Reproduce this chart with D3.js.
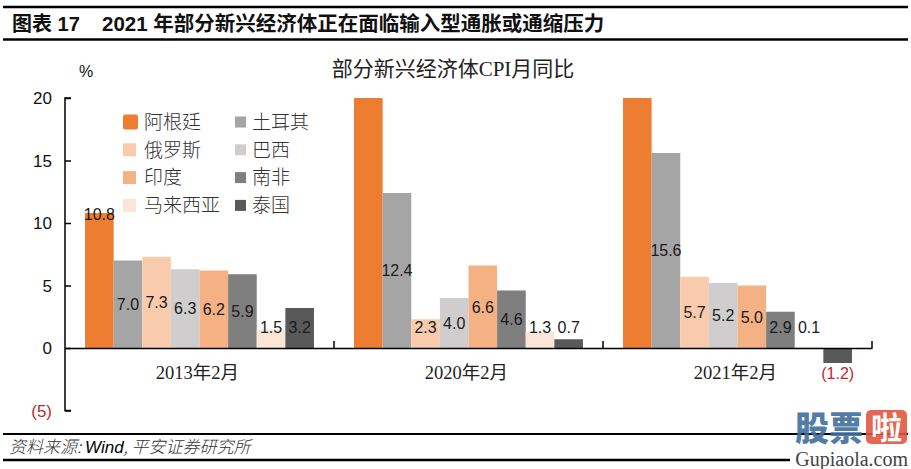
<!DOCTYPE html>
<html><head><meta charset="utf-8">
<script src="https://cdn.jsdelivr.net/npm/d3@7"></script>
<style>
html,body{margin:0;padding:0;background:#fff;}
svg{display:block;}
</style></head>
<body>
<svg id="chart" width="911" height="469"></svg>
<script>
// ---- data ----
const categories = ["2013年2月", "2020年2月", "2021年2月"];
const seriesNames = ["阿根廷", "土耳其", "俄罗斯", "巴西", "印度", "南非", "马来西亚", "泰国"];
const argentina   = [10.8, 50.3, 40.7];
const turkey      = [7.0, 12.4, 15.6];
const russia      = [7.3, 2.3, 5.7];
const brazil      = [6.3, 4.0, 5.2];
const india       = [6.2, 6.6, 5.0];
const southAfrica = [5.9, 4.6, 2.9];
const malaysia    = [1.5, 1.3, 0.1];
const thailand    = [3.2, 0.7, -1.2];
const yTicks = [20, 15, 10, 5, 0, -5];
const seriesValues = [argentina, turkey, russia, brazil, india, southAfrica, malaysia, thailand];
const colors = ["#ED7D31", "#A5A5A5", "#F8CBAD", "#CFCDCD", "#F4B183", "#7F7F7F", "#FBE5D6", "#595959"];

const svg = d3.select("#chart");
const sansCJK = "'Liberation Sans', Arial, 'Noto Sans CJK SC', sans-serif";
const serifCJK = "'Liberation Serif', 'Times New Roman', 'Noto Sans CJK SC', serif";

// ---- header ----
svg.append("line").attr("x1", 3).attr("x2", 908).attr("y1", 7).attr("y2", 7)
  .attr("stroke", "#000").attr("stroke-width", 2.5);
svg.append("line").attr("x1", 3).attr("x2", 908).attr("y1", 39.5).attr("y2", 39.5)
  .attr("stroke", "#000").attr("stroke-width", 2.5);
svg.append("text").attr("x", 12).attr("y", 31)
  .style("font-family", sansCJK).style("font-weight", "bold").style("font-size", "20px")
  .attr("fill", "#111").text("图表 17");
svg.append("text").attr("x", 102).attr("y", 31)
  .style("font-family", sansCJK).style("font-weight", "bold").style("font-size", "20.5px")
  .attr("fill", "#111").text("2021 年部分新兴经济体正在面临输入型通胀或通缩压力");

// ---- chart title ----
svg.append("text").attr("x", 453).attr("y", 76).attr("text-anchor", "middle")
  .style("font-family", serifCJK).style("font-size", "21px").attr("fill", "#222")
  .text("部分新兴经济体CPI月同比");

// ---- scales ----
const x0 = d3.scaleBand().domain(categories).range([65, 872]).padding(0);
const x1 = d3.scaleBand().domain(seriesNames).range([0, x0.bandwidth()]).paddingInner(0).paddingOuter(0.7);
const y = d3.scaleLinear().domain([-5, 20]).range([410.5, 98]).clamp(true);
const fmt = v => v < 0 ? "(" + d3.format(".1f")(-v) + ")" : d3.format(".1f")(v);
const tickFmt = v => v < 0 ? "(" + (-v) + ")" : String(v);

// ---- bars ----
const groups = svg.append("g").selectAll("g").data(categories).join("g")
  .attr("transform", d => `translate(${x0(d)},0)`);
groups.each(function(cat, ci) {
  const g = d3.select(this);
  seriesNames.forEach((name, si) => {
    const v = seriesValues[si][ci];
    g.append("rect")
      .attr("x", x1(name))
      .attr("width", x1.bandwidth())
      .attr("y", Math.min(y(v), y(0)))
      .attr("height", Math.abs(y(v) - y(0)))
      .attr("fill", colors[si]);
  });
});

// ---- axes ----
const yAxis = d3.axisRight(y).tickValues(yTicks).tickSize(6).tickFormat("");
const yg = svg.append("g").attr("transform", "translate(65,0)").call(yAxis);
yg.select(".domain").attr("stroke", "#000").attr("stroke-width", 1.5).attr("d", "M6,98H0V410.5H6");
yg.selectAll(".tick line").attr("stroke", "#000").attr("stroke-width", 1.5);
svg.append("g").selectAll("text").data(yTicks).join("text")
  .attr("x", 52).attr("y", d => y(d)).attr("dy", "0.36em").attr("text-anchor", "end")
  .style("font-family", sansCJK).style("font-size", "17px")
  .attr("fill", d => d < 0 ? "#C0272D" : "#111").text(tickFmt);

// zero line with category separators
const xAxis = d3.axisTop(x0).tickSize(0).tickFormat("");
const xg = svg.append("g").attr("transform", `translate(0,${y(0)})`).call(xAxis);
xg.select(".domain").attr("stroke", "#000").attr("stroke-width", 1.5);
xg.selectAll(".tick").remove();
svg.append("g").selectAll("line").data(categories).join("line")
  .attr("x1", d => x0(d) + x0.bandwidth()).attr("x2", d => x0(d) + x0.bandwidth())
  .attr("y1", y(0)).attr("y2", y(0) - 7).attr("stroke", "#000").attr("stroke-width", 1.5);

// category labels
svg.append("g").selectAll("text").data(categories).join("text")
  .attr("x", d => x0(d) + x0.bandwidth() / 2 - 2).attr("y", y(0) + 31)
  .attr("text-anchor", "middle")
  .style("font-family", serifCJK).style("font-size", "18.5px").attr("fill", "#222")
  .text(d => d);

// "%" unit
svg.append("text").attr("x", 86).attr("y", 77).attr("text-anchor", "middle")
  .style("font-family", sansCJK).style("font-size", "16px").attr("fill", "#111").text("%");

// ---- value labels ----
groups.each(function(cat, ci) {
  const g = d3.select(this);
  seriesNames.forEach((name, si) => {
    const v = seriesValues[si][ci];
    if (v > 20) return;
    let ly;
    if (v < 0) ly = y(v) + 10;
    else if (si === 0) ly = y(v) + 1;
    else ly = y(Math.max(v / 2, 1.65));
    g.append("text")
      .attr("x", x1(name) + x1.bandwidth() / 2)
      .attr("y", ly).attr("dy", "0.36em").attr("text-anchor", "middle")
      .style("font-family", sansCJK).style("font-size", "16px")
      .attr("fill", v < 0 ? "#C0272D" : "#1a1a1a")
      .text(fmt(v));
  });
});

// ---- legend ----
const legend = svg.append("g");
seriesNames.forEach((name, i) => {
  const col = i % 2, row = Math.floor(i / 2);
  const cx = col === 0 ? 123 : 235;
  const cy = 122 + row * 27.8;
  const s = col === 0 ? (i === 0 ? 15 : 13) : 11;
  legend.append("rect").attr("x", cx).attr("y", cy - s / 2).attr("width", s).attr("height", s)
    .attr("rx", i === 0 ? 2 : 0).attr("fill", colors[i]);
  legend.append("text").attr("x", col === 0 ? 144 : 252).attr("y", cy).attr("dy", "0.36em")
    .style("font-family", "'Noto Sans CJK SC', sans-serif").style("font-size", "19px")
    .style("font-weight", 300).attr("fill", "#333").text(name);
});

// ---- footer ----
svg.append("line").attr("x1", 3).attr("x2", 908).attr("y1", 434).attr("y2", 434)
  .attr("stroke", "#000").attr("stroke-width", 2);
svg.append("line").attr("x1", 3).attr("x2", 908).attr("y1", 460).attr("y2", 460)
  .attr("stroke", "#000").attr("stroke-width", 2.5);
const foot = svg.append("text").attr("x", 9).attr("y", 453)
  .style("font-size", "17px").style("font-style", "italic").attr("fill", "#333");
foot.append("tspan").style("font-family", "'Noto Sans CJK SC', sans-serif").style("font-weight", 300).text("资料来源: ");
foot.append("tspan").style("font-family", sansCJK).attr("fill", "#000").text("Wind");
foot.append("tspan").style("font-family", "'Noto Sans CJK SC', sans-serif").style("font-weight", 300).text(", 平安证券研究所");

// ---- watermark ----
const wm = svg.append("g");
wm.append("rect").attr("x", 790).attr("y", 450).attr("width", 119).attr("height", 19).attr("fill", "#fff");
wm.append("text").attr("x", 795).attr("y", 441)
  .style("font-family", "'Noto Sans CJK SC', sans-serif").style("font-weight", 900).style("font-size", "34px")
  .attr("fill", "#41709E").attr("opacity", 0.9).text("股票");
wm.append("rect").attr("x", 866).attr("y", 410).attr("width", 41).attr("height", 34).attr("rx", 5)
  .attr("fill", "#E0563F").attr("opacity", 0.9);
wm.append("text").attr("x", 886.5).attr("y", 439).attr("text-anchor", "middle")
  .style("font-family", "'Noto Sans CJK SC', sans-serif").style("font-weight", 700).style("font-size", "31px")
  .attr("fill", "#fff").text("啦");
wm.append("text").attr("x", 908).attr("y", 466).attr("text-anchor", "end")
  .style("font-family", "'Liberation Serif', serif").style("font-size", "20px").attr("fill", "#444")
  .text("Gupiaola.com");
</script>
</body></html>
